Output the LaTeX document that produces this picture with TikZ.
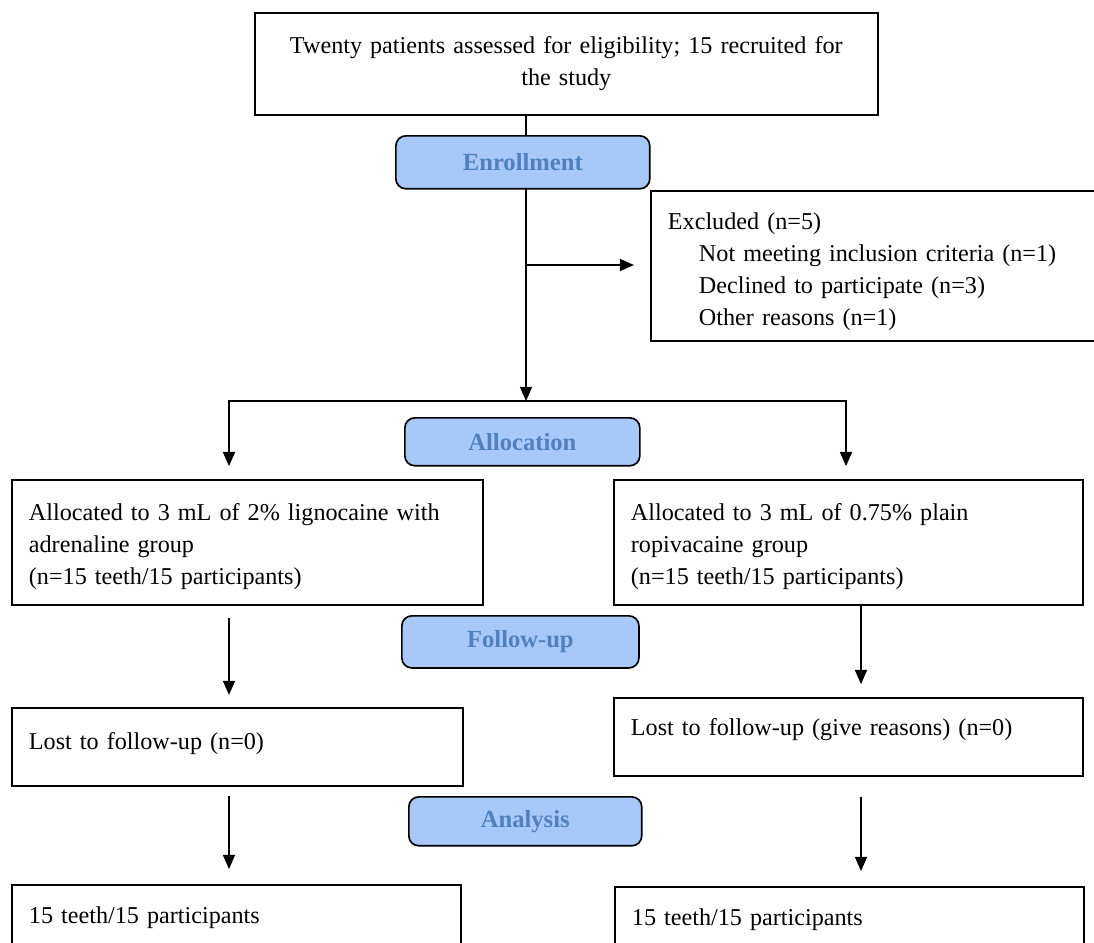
\documentclass[tikz,border=0pt]{standalone}
\usepackage{fontspec}
\setmainfont{Liberation Serif}
\usepackage{tikz}
\usetikzlibrary{calc,arrows.meta}

\definecolor{stagefill}{RGB}{168,200,250}
\definecolor{stagetext}{RGB}{79,129,189}

\tikzset{
  flowbox/.style={draw,line width=0.8pt,anchor=north west,align=left,inner xsep=8.2pt,inner ysep=0pt},
  stagebox/.style={draw,line width=0.8pt,rounded corners=4.8pt,fill=stagefill,text=stagetext,
    font=\fontsize{11.8pt}{15.36pt}\selectfont\bfseries,anchor=north west,inner sep=0pt},
  flowarrow/.style={line width=0.7pt,-{Triangle[length=6.8pt,width=5.8pt]}},
  splitarrow/.style={line width=0.7pt,{Triangle[length=6.8pt,width=5.8pt]}-{Triangle[length=6.8pt,width=5.8pt]}}
}

\begin{document}
\begin{tikzpicture}[x=0.48pt,y=-0.48pt,font=\fontsize{11.6pt}{15.36pt}\selectfont]
  \useasboundingbox (0,0) rectangle (1094,942);
  \clip (0,0) rectangle (1094,942);

  %% Boxes of the flow
  \node[flowbox,align=center,minimum width=299pt,minimum height=49pt,text width=282pt] (screen) at (254,12)
    {Twenty patients assessed for eligibility; 15 recruited for\\the study};
  \node[flowbox,minimum width=220.8pt,minimum height=72pt,text width=204.4pt] (excl) at (650,190)
    {\rule{0pt}{13.5pt}Excluded (n=5)\\
     \hspace*{14.9pt}Not meeting inclusion criteria (n=1)\\
     \hspace*{14.9pt}Declined to participate (n=3)\\
     \hspace*{14.9pt}Other reasons (n=1)};
  \node[flowbox,minimum width=226.1pt,minimum height=60pt,text width=209.7pt] (lalloc) at (11,479)
    {\rule{0pt}{12pt}Allocated to 3 mL of 2\% lignocaine with\\adrenaline group\\(n=15 teeth/15 participants)};
  \node[flowbox,minimum width=225.1pt,minimum height=60pt,text width=208.7pt] (ralloc) at (613,479)
    {\rule{0pt}{12pt}Allocated to 3 mL of 0.75\% plain\\ropivacaine group\\(n=15 teeth/15 participants)};
  \node[flowbox,minimum width=216.5pt,minimum height=37.4pt,text width=200.1pt] (llost) at (11,707)
    {Lost to follow-up (n=0)\rule[-6pt]{0pt}{6pt}};
  \node[flowbox,minimum width=225.1pt,minimum height=37.4pt,text width=208.7pt] (rlost) at (613,697)
    {Lost to follow-up (give reasons) (n=0)\rule[-9pt]{0pt}{9pt}};
  \node[flowbox,minimum width=215.5pt,minimum height=31.7pt,text width=199.1pt] (lfinal) at (11,884)
    {15 teeth/15 participants};
  \node[flowbox,minimum width=225.1pt,minimum height=31.7pt,text width=208.7pt] (rfinal) at (614,886)
    {15 teeth/15 participants};

  %% Trunk, exclusion branch and split
  \coordinate (split) at (526,401);
  \coordinate (branch) at (526,265);
  \coordinate (splitL) at (229,401);
  \coordinate (splitR) at (846,401);
  \coordinate (colL) at (229,0);
  \coordinate (colR) at (861,0);
  \draw[flowarrow] (split |- screen.south) -- (split);
  \draw[flowarrow,shorten >=7.7pt] (branch) -- (excl.west |- branch);
  \draw[splitarrow,shorten <=6.2pt,shorten >=6.2pt]
    (splitL |- lalloc.north) -- (splitL) -- (splitR) -- (splitR |- ralloc.north);

  %% Arrows between the groups
  \draw[flowarrow,shorten <=5.8pt,shorten >=5.8pt] (colL |- lalloc.south) -- (colL |- llost.north);
  \draw[flowarrow,shorten >=6.2pt] (colR |- ralloc.south) -- (colR |- rlost.north);
  \draw[flowarrow,shorten <=4.3pt,shorten >=7.2pt] (colL |- llost.south) -- (colL |- lfinal.north);
  \draw[flowarrow,shorten <=9.6pt,shorten >=7.2pt] (colR |- rlost.south) -- (colR |- rfinal.north);

  %% Stage labels
  \foreach \name/\x/\y/\w/\h/\stage in {enrol/395/135/121.9pt/25.4pt/Enrollment,
      alloc/404/417/112.8pt/23pt/Allocation,
      follow/401/615/113.8pt/25pt/Follow-up,
      analysis/408/796/111.8pt/23.5pt/Analysis}
  {
    \node[stagebox,minimum width=\w,minimum height=\h] (\name) at (\x,\y) {\stage};
  }
\end{tikzpicture}
\end{document}
